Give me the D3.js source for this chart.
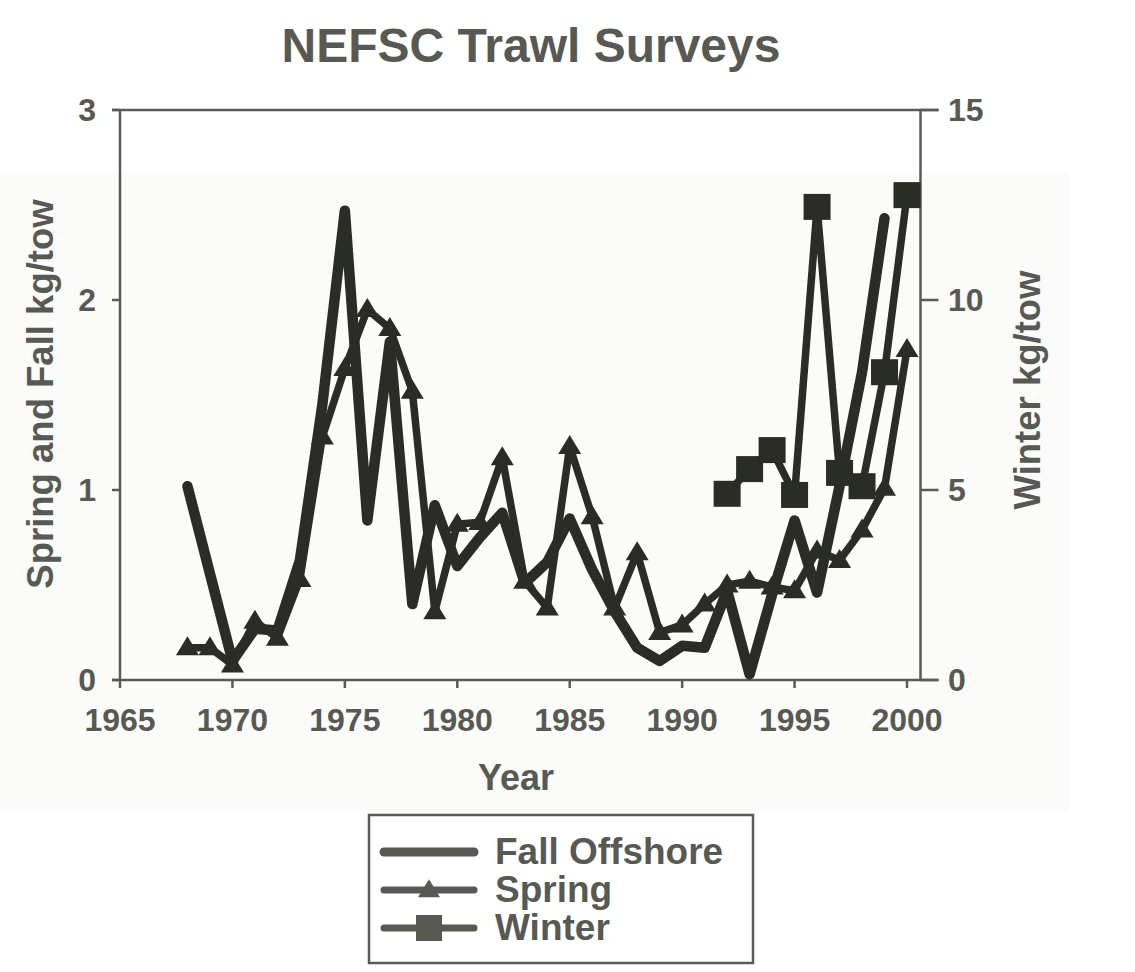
<!DOCTYPE html>
<html><head><meta charset="utf-8">
<script src="https://cdn.jsdelivr.net/npm/d3@7"></script>
<style>
html,body{margin:0;padding:0;background:#fff;}
svg{display:block;font-family:"Liberation Sans",Arial,sans-serif;font-weight:bold;}
</style></head>
<body>
<svg id="chart" width="1135" height="972"></svg>
<script>
// ---------- data ----------
const fallYears = [1968,1969,1970,1971,1972,1973,1974,1975,1976,1977,1978,1979,1980,1981,1982,1983,1984,1985,1986,1987,1988,1989,1990,1991,1992,1993,1994,1995,1996,1997,1998,1999];
const fallValues = [1.02,0.56,0.10,0.27,0.26,0.63,1.45,2.47,0.84,1.78,0.40,0.92,0.60,0.75,0.88,0.51,0.62,0.85,0.58,0.36,0.17,0.10,0.18,0.17,0.47,0.03,0.45,0.84,0.46,1.02,1.62,2.43];
const springYears = [1968,1969,1970,1971,1972,1973,1974,1975,1976,1977,1978,1979,1980,1981,1982,1983,1984,1985,1986,1987,1988,1989,1990,1991,1992,1993,1994,1995,1996,1997,1998,1999,2000];
const springValues = [0.17,0.17,0.08,0.31,0.22,0.53,1.28,1.64,1.95,1.85,1.52,0.36,0.82,0.83,1.17,0.52,0.38,1.23,0.86,0.38,0.67,0.25,0.29,0.40,0.50,0.52,0.49,0.47,0.68,0.63,0.79,1.01,1.74];
const winterYears = [1992,1993,1994,1995,1996,1997,1998,1999,2000];
const winterValues = [4.9,5.55,6.05,4.87,12.45,5.45,5.1,8.1,12.76];
const xTicks = [1965,1970,1975,1980,1985,1990,1995,2000];
const leftTicks = [0,1,2,3];
const rightTicks = [0,5,10,15];
const legendLabels = ["Fall Offshore","Spring","Winter"];

// ---------- layout ----------
const svg = d3.select("#chart");
const textColor = "#575953", lineColor = "#2a2c26", axisColor = "#5a5a56";
const x = d3.scaleLinear().domain([1965, 2000.6]).range([120, 920.5]);
const yL = d3.scaleLinear().domain([0, 3]).range([680, 110]);
const yR = d3.scaleLinear().domain([0, 15]).range([680, 110]);

// faint scan background
svg.append("rect").attr("x",0).attr("y",172).attr("width",1070).attr("height",640).attr("fill","#fbfbfa");

// title
svg.append("text").attr("x",531).attr("y",62).attr("text-anchor","middle")
  .attr("font-size",48).attr("fill",textColor).text("NEFSC Trawl Surveys");

// axes
const axG = svg.append("g").attr("stroke",axisColor).attr("stroke-width",2.5).attr("fill","none");
axG.append("line").attr("x1",x.range()[0]).attr("x2",x.range()[0]).attr("y1",yL(3)).attr("y2",yL(0));
axG.append("line").attr("x1",x.range()[1]).attr("x2",x.range()[1]).attr("y1",yL(3)).attr("y2",yL(0));
axG.append("line").attr("x1",x.range()[0]-8).attr("x2",x.range()[1]+18).attr("y1",yL(3)).attr("y2",yL(3));
axG.append("line").attr("x1",x.range()[0]-8).attr("x2",x.range()[1]+18).attr("y1",yL(0)).attr("y2",yL(0));
leftTicks.forEach(t=>axG.append("line").attr("x1",x.range()[0]-8).attr("x2",x.range()[0]).attr("y1",yL(t)).attr("y2",yL(t)));
rightTicks.forEach(t=>axG.append("line").attr("x1",x.range()[1]).attr("x2",x.range()[1]+18).attr("y1",yR(t)).attr("y2",yR(t)));
xTicks.forEach(t=>axG.append("line").attr("x1",x(t)).attr("x2",x(t)).attr("y1",yL(0)).attr("y2",yL(0)+8));

// tick labels
const tl = svg.append("g").attr("fill",textColor).attr("font-size",32);
xTicks.forEach(t=>tl.append("text").attr("x",x(t)).attr("y",731).attr("text-anchor","middle").text(t));
leftTicks.forEach(t=>tl.append("text").attr("x",96).attr("y",yL(t)+11).attr("text-anchor","end").text(t));
rightTicks.forEach(t=>tl.append("text").attr("x",948).attr("y",yR(t)+11).attr("text-anchor","start").text(t));

// axis titles
svg.append("text").attr("font-size",36.5).attr("fill",textColor).attr("text-anchor","middle")
  .attr("transform","translate(53,394) rotate(-90)").text("Spring and Fall kg/tow");
svg.append("text").attr("font-size",36.5).attr("fill",textColor).attr("text-anchor","middle")
  .attr("transform","translate(1040,390) rotate(-90)").text("Winter kg/tow");
svg.append("text").attr("font-size",36).attr("fill",textColor).attr("text-anchor","middle")
  .attr("x",516).attr("y",790).text("Year");

// series
const fallData = fallYears.map((d,i)=>({x:d,y:fallValues[i]}));
const springData = springYears.map((d,i)=>({x:d,y:springValues[i]}));
const winterData = winterYears.map((d,i)=>({x:d,y:winterValues[i]}));
const lineL = d3.line().x(d=>x(d.x)).y(d=>yL(d.y));
const lineR = d3.line().x(d=>x(d.x)).y(d=>yR(d.y));

svg.append("path").datum(fallData).attr("d",lineL).attr("fill","none")
  .attr("stroke",lineColor).attr("stroke-width",10.5).attr("stroke-linejoin","round").attr("stroke-linecap","round");
svg.append("path").datum(springData).attr("d",lineL).attr("fill","none")
  .attr("stroke",lineColor).attr("stroke-width",7.5).attr("stroke-linejoin","round");
const tri = (cx,cy,w,h)=>`M${cx},${cy-h*0.6}L${cx+w/2},${cy+h*0.4}L${cx-w/2},${cy+h*0.4}Z`;
svg.append("g").selectAll("path").data(springData).join("path")
  .attr("d",d=>tri(x(d.x),yL(d.y),23,19)).attr("fill",lineColor);

svg.append("path").datum(winterData).attr("d",lineR).attr("fill","none")
  .attr("stroke",lineColor).attr("stroke-width",7.5).attr("stroke-linejoin","round");
svg.append("g").selectAll("rect").data(winterData).join("rect")
  .attr("x",d=>x(d.x)-13.5).attr("y",d=>yR(d.y)-13).attr("width",27).attr("height",26).attr("fill",lineColor);

// legend
const lg = svg.append("g");
lg.append("rect").attr("x",369).attr("y",815).attr("width",384).attr("height",148)
  .attr("fill","#fff").attr("stroke",axisColor).attr("stroke-width",2.5);
legendLabels.forEach((lab,i)=>{
  const cy = 852 + i*38;
  lg.append("line").attr("x1",384).attr("x2",474).attr("y1",cy).attr("y2",cy)
    .attr("stroke",textColor).attr("stroke-width",i===0?9:7).attr("stroke-linecap","round");
  if(i===1) lg.append("path").attr("d",tri(429,cy,22,18)).attr("fill",textColor);
  if(i===2) lg.append("rect").attr("x",416).attr("y",cy-13).attr("width",26).attr("height",26).attr("fill",textColor);
  lg.append("text").attr("x",495).attr("y",cy+12).attr("font-size",37).attr("fill",textColor).text(lab);
});
</script>
</body></html>
